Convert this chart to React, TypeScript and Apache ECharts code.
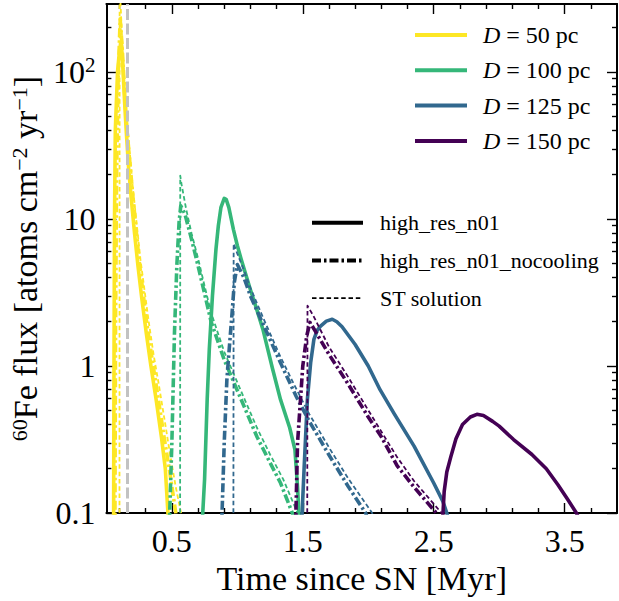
import React, { useEffect, useRef } from "react";
import * as echarts from "echarts";

// ---------- data (time in Myr, flux in atoms cm^-2 yr^-1) ----------
const distances = ["D = 50 pc", "D = 100 pc", "D = 125 pc", "D = 150 pc"];
const colors = ["#fde725", "#35b779", "#31688e", "#440154"];
const styleNames = ["high_res_n01", "high_res_n01_nocooling", "ST solution"];

const solid50: [number, number][] = [
  [0.055, 0.08], [0.058, 1], [0.062, 10], [0.068, 40], [0.085, 100], [0.1, 140], [0.114, 160],
  [0.125, 110], [0.14, 60], [0.152, 39], [0.17, 22], [0.19, 13.7], [0.215, 8], [0.241, 4.8],
  [0.27, 2.9], [0.304, 1.69], [0.34, 1.0], [0.38, 0.59], [0.42, 0.33], [0.45, 0.2], [0.47, 0.1], [0.48, 0.08],
];
const nocool50: [number, number][] = [
  [0.065, 0.08], [0.07, 2], [0.078, 20], [0.09, 90], [0.105, 230], [0.12, 150], [0.14, 70],
  [0.16, 38], [0.2, 15], [0.25, 5.2], [0.31, 1.9], [0.35, 1.1], [0.39, 0.65], [0.44, 0.33], [0.48, 0.2], [0.53, 0.1], [0.54, 0.08],
];
const st50: [number, number][] = [
  [0.1, 0.08], [0.101, 400], [0.12, 170], [0.14, 80], [0.16, 45], [0.2, 17], [0.26, 5.3],
  [0.32, 2.1], [0.36, 1.2], [0.4, 0.75], [0.45, 0.4], [0.49, 0.24], [0.53, 0.15], [0.57, 0.1], [0.58, 0.08],
];

const solid100: [number, number][] = [
  [0.73, 0.08], [0.75, 0.17], [0.77, 0.6], [0.786, 1.3], [0.81, 3], [0.837, 6.25], [0.855, 9],
  [0.875, 12], [0.9, 13.8], [0.915, 13.6], [0.935, 12], [0.97, 8.5], [1.0, 6.6], [1.03, 5.3],
  [1.1, 3.3], [1.15, 2.4], [1.195, 1.78], [1.27, 0.95], [1.33, 0.59], [1.4, 0.38], [1.44, 0.27],
  [1.46, 0.15], [1.47, 0.1], [1.48, 0.08],
];
const nocool100: [number, number][] = [
  [0.48, 0.08], [0.5, 0.3], [0.52, 1.69], [0.538, 4.8], [0.555, 9.5], [0.568, 12.3], [0.6, 10.8],
  [0.65, 7.3], [0.7, 4.8], [0.75, 3.1], [0.8, 2.0], [0.9, 1.1], [1.03, 0.59], [1.15, 0.33],
  [1.25, 0.22], [1.33, 0.16], [1.42, 0.1], [1.45, 0.08],
];
const st100: [number, number][] = [
  [0.563, 0.08], [0.564, 19.7], [0.575, 17], [0.609, 11.7], [0.65, 8.0], [0.7, 5.4], [0.75, 3.5],
  [0.8, 2.3], [0.9, 1.25], [1.03, 0.67], [1.15, 0.38], [1.25, 0.25], [1.35, 0.17], [1.46, 0.1], [1.48, 0.08],
];

const solid125: [number, number][] = [
  [1.49, 0.08], [1.51, 0.2], [1.535, 0.59], [1.56, 1.05], [1.585, 1.52], [1.61, 1.75], [1.636, 1.87],
  [1.68, 2.02], [1.725, 2.08], [1.76, 2.0], [1.8, 1.85], [1.9, 1.4], [2.0, 1.0], [2.09, 0.69],
  [2.2, 0.47], [2.35, 0.285], [2.5, 0.16], [2.57, 0.12], [2.6, 0.1], [2.63, 0.08],
];
const nocool125: [number, number][] = [
  [0.88, 0.08], [0.9, 0.3], [0.92, 0.8], [0.938, 1.3], [0.96, 2.3], [0.977, 3.7], [1.0, 4.9],
  [1.05, 4.0], [1.1, 3.0], [1.2, 1.9], [1.33, 1.05], [1.45, 0.62], [1.55, 0.42], [1.71, 0.24],
  [1.85, 0.15], [1.98, 0.1], [2.02, 0.08],
];
const st125: [number, number][] = [
  [0.97, 0.08], [0.972, 6.8], [1.0, 5.8], [1.05, 4.5], [1.1, 3.4], [1.2, 2.1], [1.33, 1.15],
  [1.45, 0.7], [1.55, 0.47], [1.71, 0.27], [1.85, 0.17], [2.03, 0.1], [2.06, 0.08],
];

const solid150: [number, number][] = [
  [2.565, 0.08], [2.58, 0.14], [2.6, 0.19], [2.63, 0.24], [2.67, 0.32], [2.72, 0.4], [2.78, 0.45],
  [2.83, 0.469], [2.88, 0.46], [2.95, 0.42], [3.0, 0.39], [3.11, 0.316], [3.25, 0.25], [3.36, 0.2],
  [3.45, 0.155], [3.52, 0.125], [3.59, 0.1], [3.62, 0.088],
];
const nocool150: [number, number][] = [
  [1.445, 0.08], [1.46, 0.3], [1.5, 1.0], [1.53, 1.6], [1.555, 1.98], [1.6, 1.7], [1.7, 1.2],
  [1.84, 0.77], [2.0, 0.45], [2.1, 0.33], [2.22, 0.21], [2.35, 0.15], [2.52, 0.1], [2.55, 0.08],
];
const st150: [number, number][] = [
  [1.534, 0.08], [1.536, 2.57], [1.58, 2.2], [1.7, 1.35], [1.84, 0.86], [2.0, 0.5], [2.22, 0.24],
  [2.35, 0.165], [2.56, 0.1], [2.58, 0.08],
];

const snLineTime = 0.157;

const xMajorTicks = [0.5, 1.5, 2.5, 3.5];
const xMinorTicks = [0.1, 0.3, 0.7, 0.9, 1.1, 1.3, 1.7, 1.9, 2.1, 2.3, 2.7, 2.9, 3.1, 3.3, 3.7];
const yMajorTicks = [0.1, 1, 10, 100];
const yMinorTicks = [
  0.2, 0.3, 0.4, 0.5, 0.6, 0.7, 0.8, 0.9, 2, 3, 4, 5, 6, 7, 8, 9,
  20, 30, 40, 50, 60, 70, 80, 90, 200,
];

const X_MIN = 0;
const X_MAX = 3.9;
const Y_MIN = 0.1;
const Y_MAX = 290;

// ---------- styling ----------
const FONT = "Liberation Serif";
const DASHDOT = [9, 3, 2.5, 3];
const DOTTED = [4.5, 2.8];

const solids = [solid50, solid100, solid125, solid150];
const nocools = [nocool50, nocool100, nocool125, nocool150];
const sts = [st50, st100, st125, st150];

function lineSeries(name: string, data: [number, number][], color: string, kind: number) {
  return {
    type: "line",
    name,
    data,
    symbol: "none",
    showSymbol: false,
    clip: true,
    silent: true,
    smooth: false,
    xAxisIndex: 0,
    yAxisIndex: 0,
    lineStyle: {
      color,
      width: kind === 2 ? 1.8 : 3.6,
      type: kind === 0 ? "solid" : kind === 1 ? DASHDOT : DOTTED,
      cap: "butt",
      join: "round",
    },
  };
}

function makeX(position: string, ticks: number[], len: number, showLabel: boolean, showLine: boolean, extra: any = {}) {
  return {
    type: "value",
    position,
    min: X_MIN,
    max: X_MAX,
    axisLine: { show: showLine, onZero: false, lineStyle: { color: "#000", width: 2 } },
    axisTick: { show: true, inside: true, length: len, customValues: ticks, lineStyle: { color: "#000", width: 1.4 } },
    axisLabel: showLabel
      ? { show: true, customValues: ticks, fontFamily: FONT, fontSize: 32, color: "#000", margin: 12 }
      : { show: false },
    splitLine: { show: false },
    ...extra,
  };
}

function makeY(position: string, ticks: number[], len: number, showLabel: boolean, showLine: boolean, extra: any = {}) {
  return {
    type: "log",
    logBase: 10,
    position,
    min: Y_MIN,
    max: Y_MAX,
    axisLine: { show: showLine, onZero: false, lineStyle: { color: "#000", width: 2 } },
    axisTick: { show: true, inside: true, length: len, customValues: ticks, lineStyle: { color: "#000", width: 1.4 } },
    axisLabel: showLabel
      ? {
          show: true,
          customValues: ticks,
          fontFamily: FONT,
          fontSize: 32,
          color: "#000",
          margin: 11,
          formatter: (v: number) => {
            if (Math.abs(v - 100) < 1e-6) return "10{sup|2}";
            if (Math.abs(v - 10) < 1e-6) return "10";
            if (Math.abs(v - 1) < 1e-6) return "1";
            return "0.1";
          },
          rich: {
            sup: { fontFamily: FONT, fontSize: 21, color: "#000", verticalAlign: "top", padding: [0, 0, 14, 0] },
          },
        }
      : { show: false },
    splitLine: { show: false },
    minorTick: { show: false },
    ...extra,
  };
}

export default function App() {
  const ref = useRef<HTMLDivElement>(null);

  useEffect(() => {
    if (!ref.current) return;
    const chart = echarts.init(ref.current, undefined, { renderer: "svg" });

    const series: any[] = [];
    for (let i = 0; i < 4; i++) {
      series.push(lineSeries(distances[i], solids[i], colors[i], 0));
      series.push(lineSeries(distances[i] + " nocooling", nocools[i], colors[i], 1));
      series.push(lineSeries(distances[i] + " ST", sts[i], colors[i], 2));
    }
    series.push({
      type: "line",
      name: "SN",
      data: [],
      xAxisIndex: 0,
      yAxisIndex: 0,
      silent: true,
      markLine: {
        silent: true,
        symbol: "none",
        label: { show: false },
        lineStyle: { color: "#c2c2c2", width: 3, type: [11, 3.5] },
        data: [{ xAxis: snLineTime }],
      },
    });

    // legend drawn with graphic elements
    const graphics: any[] = [];
    for (let i = 0; i < 4; i++) {
      const y = 35 + i * 35.3;
      graphics.push({
        type: "line",
        shape: { x1: 415, y1: y, x2: 467, y2: y },
        style: { stroke: colors[i], lineWidth: 4 },
      });
      const num = distances[i].replace("D = ", "");
      graphics.push({
        type: "text",
        x: 483,
        y,
        style: {
          text: "{i|D} = " + num,
          fontFamily: FONT,
          fontSize: 24,
          fill: "#000",
          verticalAlign: "middle",
          rich: { i: { fontFamily: FONT, fontSize: 24, fontStyle: "italic", fill: "#000" } },
        },
      });
    }
    const dashes = [null, DASHDOT, DOTTED];
    for (let i = 0; i < 3; i++) {
      const y = 222.7 + i * 37.7;
      graphics.push({
        type: "line",
        shape: { x1: 312, y1: y, x2: 363, y2: y },
        style: {
          stroke: "#000",
          lineWidth: i === 2 ? 1.8 : 4,
          lineDash: dashes[i] || undefined,
        },
      });
      graphics.push({
        type: "text",
        x: 380,
        y,
        style: {
          text: styleNames[i],
          fontFamily: FONT,
          fontSize: 22,
          fill: "#000",
          verticalAlign: "middle",
        },
      });
    }

    chart.setOption({
      animation: false,
      backgroundColor: "#fff",
      grid: { left: 105, right: 2, top: 4, bottom: 88, containLabel: false },
      xAxis: [
        makeX("bottom", xMajorTicks, 10, true, true, {
          name: "Time since SN [Myr]",
          nameLocation: "middle",
          nameGap: 45,
          nameTextStyle: { fontFamily: FONT, fontSize: 34, color: "#000" },
        }),
        makeX("bottom", xMinorTicks, 5, false, false),
        makeX("top", xMajorTicks, 10, false, true),
        makeX("top", xMinorTicks, 5, false, false),
      ],
      yAxis: [
        makeY("left", yMajorTicks, 10, true, true, {
          name: "{sup|60}Fe flux [atoms cm{sup|−2} yr{sup|−1}]",
          nameLocation: "middle",
          nameGap: 58,
          nameRotate: 90,
          nameTextStyle: {
            fontFamily: FONT,
            fontSize: 34,
            color: "#000",
            rich: {
              sup: { fontFamily: FONT, fontSize: 22, color: "#000", verticalAlign: "top" },
            },
          },
        }),
        makeY("left", yMinorTicks, 5, false, false),
        makeY("right", yMajorTicks, 10, false, true),
        makeY("right", yMinorTicks, 5, false, false),
      ],
      series,
      graphic: graphics,
    });

    return () => chart.dispose();
  }, []);

  return (
    <div
      ref={ref}
      style={{ position: "fixed", left: 0, top: 0, width: 619, height: 601, background: "#fff" }}
    />
  );
}
